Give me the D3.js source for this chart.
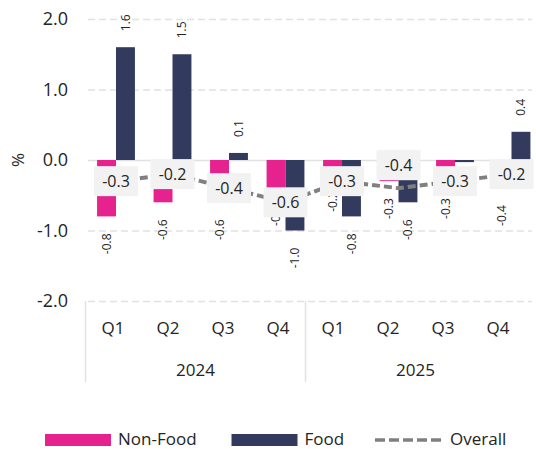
<!DOCTYPE html>
<html>
<head>
<meta charset="utf-8">
<script src="https://cdn.jsdelivr.net/npm/d3@7"></script>
<style>
	body { margin: 0; background: #fff; }
	svg { display: block; font-family: "Segoe UI", "Open Sans", sans-serif; }
</style>
</head>
<body>
<div class="chart"></div>
<script>
var quarters = ["Q1", "Q2", "Q3", "Q4", "Q1", "Q2", "Q3", "Q4"];
var years = ["2024", "2025"];
var nonFood = [-0.8, -0.6, -0.6, -0.4, -0.2, -0.3, -0.3, -0.4];
var food = [1.6, 1.5, 0.1, -1.0, -0.8, -0.6, -0.03, 0.4];
var overall = [-0.3, -0.2, -0.4, -0.6, -0.3, -0.4, -0.3, -0.2];
var yTicks = [-2, -1, 0, 1, 2];
var seriesNames = ["Non-Food", "Food", "Overall"];

(function drawChart() {
	"use strict";
	var width = 536;
	var height = 449;
	var pink = "#e6228f";
	var navy = "#323b5e";
	var grey = "#808080";
	var ink = "#252423";
	var font = "\"Segoe UI\", \"Open Sans\", sans-serif";

	// plain hyphen for negatives, like the original
	var fmt = d3.formatLocale({
		decimal: ".", thousands: ",", grouping: [3], currency: ["", ""], minus: "-"
	}).format(".1f");

	var svg = d3.select(".chart")
		.append("svg")
		.attr("width", width)
		.attr("height", height);

	var idx = d3.range(quarters.length);

	var y = d3.scaleLinear()
		.domain([-2, 2])
		.range([301, 19]);

	// bars sit on a slightly wider band than the axis labels (as in the original)
	var xBar = d3.scaleBand()
		.domain(idx)
		.range([87.75, 539.75])
		.paddingInner(0.33)
		.paddingOuter(0.165);

	var xSub = d3.scaleBand()
		.domain([0, 1])
		.range([0, xBar.bandwidth()]);

	var xAxisScale = d3.scaleBand()
		.domain(idx)
		.range([85.5, 525.5]);

	// gridlines + y labels
	var yAxis = d3.axisLeft(y)
		.tickValues(yTicks)
		.tickFormat(fmt)
		.tickSize(-(532 - 88))
		.tickPadding(20);

	var gy = svg.append("g")
		.attr("transform", "translate(88,0)")
		.call(yAxis);
	gy.select(".domain").remove();
	gy.selectAll(".tick line")
		.attr("stroke", "#e1e1e1")
		.attr("stroke-width", 1.5)
		.attr("stroke-dasharray", function(d) { return d === 0 ? null : "7,4"; });
	gy.selectAll(".tick text")
		.attr("fill", ink)
		.style("font-size", "18px")
		.style("font-family", font);

	svg.append("text")
		.attr("transform", "translate(24," + y(0) + ") rotate(-90)")
		.attr("text-anchor", "middle")
		.attr("fill", ink)
		.style("font-size", "17px")
		.text("%");

	// x axis: quarters
	var xAxis = d3.axisBottom(xAxisScale)
		.tickFormat(function(i) { return quarters[i]; })
		.tickSize(0)
		.tickPadding(0);

	var gx = svg.append("g")
		.attr("transform", "translate(0,319)")
		.call(xAxis);
	gx.select(".domain").remove();
	gx.selectAll(".tick text")
		.attr("fill", ink)
		.attr("dy", "0.9em")
		.style("font-size", "17px")
		.style("font-family", font);

	// year groups
	var perYear = quarters.length / years.length;
	years.forEach(function(yr, k) {
		var x0 = xAxisScale(k * perYear);
		var x1 = xAxisScale(k * perYear + perYear - 1) + xAxisScale.bandwidth();
		svg.append("line")
			.attr("x1", x0).attr("x2", x0)
			.attr("y1", y(-2)).attr("y2", 382)
			.attr("stroke", "#e1e1e1")
			.attr("stroke-width", 1.5);
		svg.append("text")
			.attr("x", (x0 + x1) / 2)
			.attr("y", 376)
			.attr("text-anchor", "middle")
			.attr("fill", ink)
			.style("font-size", "17px")
			.text(yr);
	});

	// bars
	var bars = [];
	idx.forEach(function(i) {
		bars.push({ i: i, s: 0, v: nonFood[i] });
		bars.push({ i: i, s: 1, v: food[i] });
	});

	svg.append("g").selectAll("rect")
		.data(bars)
		.enter()
		.append("rect")
		.attr("x", function(d) { return xBar(d.i) + xSub(d.s); })
		.attr("width", xSub.bandwidth())
		.attr("y", function(d) { return y(Math.max(0, d.v)); })
		.attr("height", function(d) { return Math.abs(y(d.v) - y(0)); })
		.attr("fill", function(d) { return d.s === 0 ? pink : navy; });

	// bar value labels (rotated)
	svg.append("g").selectAll("text")
		.data(bars)
		.enter()
		.append("text")
		.attr("transform", function(d) {
			var cx = xBar(d.i) + xSub(d.s) + xSub.bandwidth() / 2;
			var cy = d.v >= 0 ? y(d.v) - 16 : y(d.v) + 17;
			return "translate(" + cx + "," + cy + ") rotate(-90)";
		})
		.attr("text-anchor", function(d) { return d.v >= 0 ? "start" : "end"; })
		.attr("dy", "0.35em")
		.attr("fill", ink)
		.style("font-size", "12px")
		.text(function(d) { return fmt(d.v); });

	// overall line
	var line = d3.line()
		.x(function(d, i) { return xBar(i) + xBar.bandwidth() / 2; })
		.y(function(d) { return y(d); });

	svg.append("path")
		.datum(overall)
		.attr("d", line)
		.attr("fill", "none")
		.attr("stroke", grey)
		.attr("stroke-width", 4)
		.attr("stroke-dasharray", "8,4");

	// overall labels in boxes; one label is lifted above its point to avoid a clash
	var lifted = 5;
	var lab = svg.append("g").selectAll("g")
		.data(overall)
		.enter()
		.append("g")
		.attr("transform", function(d, i) {
			var cx = xBar(i) + xBar.bandwidth() / 2;
			var cy = y(d) + (i === lifted ? -23 : 0);
			return "translate(" + cx + "," + cy + ")";
		});
	lab.append("rect")
		.attr("x", -22).attr("y", -15)
		.attr("width", 44).attr("height", 30)
		.attr("fill", "#f2f2f2");
	lab.append("text")
		.attr("text-anchor", "middle")
		.attr("dy", "0.36em")
		.attr("fill", ink)
		.style("font-size", "16px")
		.text(function(d) { return fmt(d); });

	// legend
	var legend = svg.append("g").attr("transform", "translate(0,439)");
	var legendX = [45, 231.5, 375];
	seriesNames.forEach(function(name, k) {
		var g = legend.append("g").attr("transform", "translate(" + legendX[k] + ",0)");
		if (k < 2) {
			g.append("rect")
				.attr("x", 0).attr("y", -5)
				.attr("width", 66).attr("height", 12)
				.attr("fill", k === 0 ? pink : navy);
		} else {
			g.append("line")
				.attr("x1", 0).attr("x2", 68)
				.attr("y1", 1).attr("y2", 1)
				.attr("stroke", grey)
				.attr("stroke-width", 3.5)
				.attr("stroke-dasharray", "10,4");
		}
		g.append("text")
			.attr("x", k < 2 ? 73 : 75)
			.attr("dy", "0.36em")
			.attr("fill", ink)
			.style("font-size", "17px")
			.text(name);
	});
}());
</script>
</body>
</html>
